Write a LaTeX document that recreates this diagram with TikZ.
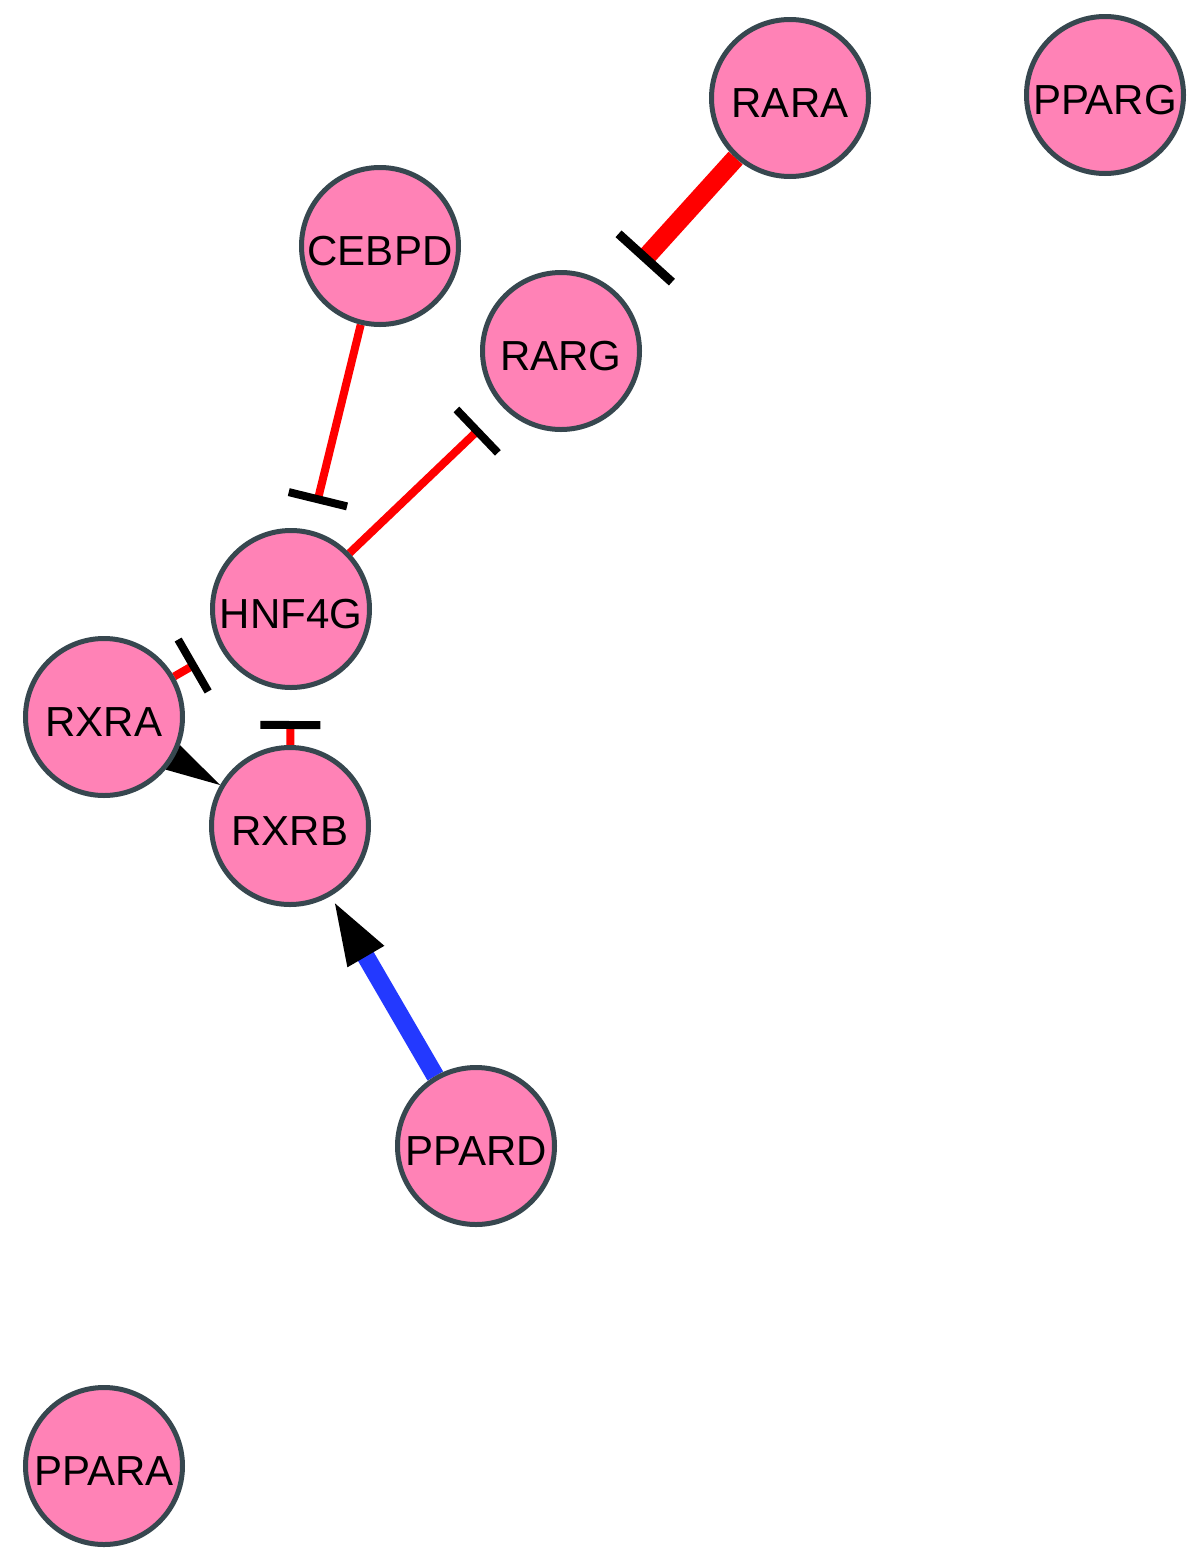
\documentclass[tikz,border=0pt]{standalone}
\usepackage{fontspec}
\setmainfont{Liberation Sans}
\usetikzlibrary{arrows.meta,backgrounds}
\definecolor{nodefill}{RGB}{255,130,182}
\definecolor{nodeborder}{RGB}{55,71,79}
\definecolor{inhred}{RGB}{255,0,0}
\definecolor{actblue}{RGB}{35,57,255}
\begin{document}
\begin{tikzpicture}[x=1pt,y=-1pt,
  gene/.style={circle, draw=nodeborder, fill=nodefill, line width=5pt,
    minimum size=157pt, inner sep=0pt, text height=38pt, text depth=0pt,
    font=\fontsize{42}{50}\selectfont},
  inhthick/.style={draw=inhred, line width=19pt,
    -{Bar[width=72pt, line width=9pt, color=black]}},
  inhthin/.style={draw=inhred, line width=8pt,
    -{Bar[width=60pt, line width=8pt, color=black]}},
  actthick/.style={draw=actblue, line width=18pt,
    -{Triangle[length=70pt, width=36pt, color=black]}},
  actthin/.style={draw=black, line width=2pt,
    -{Triangle[length=55pt, width=28pt, color=black]}}]
\useasboundingbox (0,0) rectangle (1200,1564);
\node[gene] (rara)  at (790,98)   {RARA};
\node[gene] (pparg) at (1105,95)  {PPARG};
\node[gene] (cebpd) at (380,246)  {CEBPD};
\node[gene] (rarg)  at (561,351)  {RARG};
\node[gene] (hnf)   at (291,609)  {HNF4G};
\node[gene] (rxra)  at (104,717)  {RXRA};
\node[gene] (rxrb)  at (290,826)  {RXRB};
\node[gene] (ppard) at (476,1146) {PPARD};
\node[gene] (ppara) at (104,1466) {PPARA};
\begin{scope}[on background layer]
  \draw[inhthick, shorten >=40pt] (rara) -- (rarg);
  \draw[inhthin, shorten >=31pt] (hnf) -- (rarg);
  \draw[inhthin, shorten >=28pt] (cebpd) -- (hnf);
  \draw[inhthin, shorten >=28pt] (rxra) -- (hnf);
  \draw[inhthin, shorten >=31pt] (rxrb) -- (hnf);
  \draw[actthin] (rxra) -- (rxrb);
  \draw[actthick] (ppard) -- (rxrb);
\end{scope}
\end{tikzpicture}
\end{document}
